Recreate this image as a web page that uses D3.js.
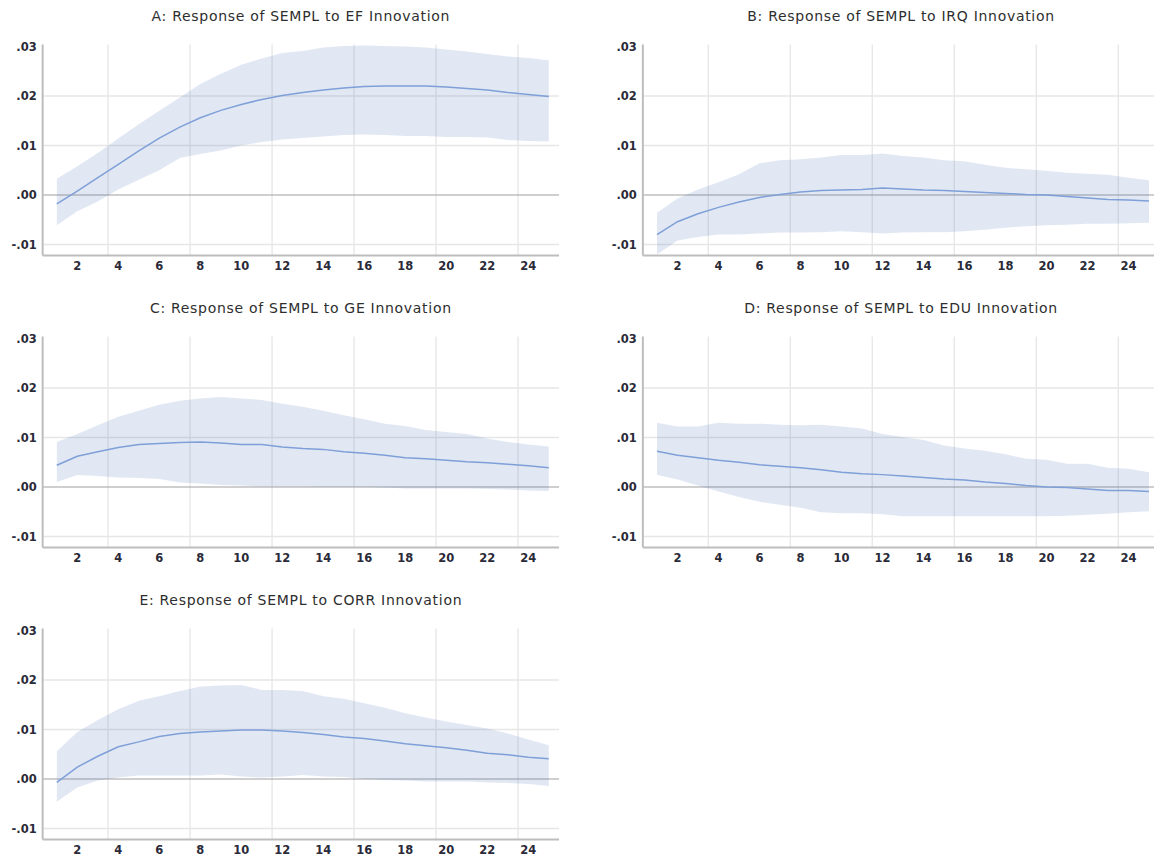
<!DOCTYPE html>
<html>
<head>
<meta charset="utf-8">
<script src="https://cdn.jsdelivr.net/npm/d3@7"></script>
<style>
  body { margin: 0; background: #fff; }
  .title { font-family: "DejaVu Sans", sans-serif; font-size: 14px; letter-spacing: 0.7px; fill: #2e2e2e; }
  .tick-label { font-family: "DejaVu Sans", sans-serif; font-size: 11.5px; font-weight: bold; fill: #2a2a38; }
</style>
</head>
<body>
<div id="chart"></div>
<script>
// periods 1..25
let periods = d3.range(1, 26);
let xTickLabels = [2, 4, 6, 8, 10, 12, 14, 16, 18, 20, 22, 24];
let xGridAt = [4, 8, 12, 16, 20, 24];
let yTicks = [0.03, 0.02, 0.01, 0.00, -0.01];
let yTickLabels = [".03", ".02", ".01", ".00", "-.01"];

let titles = [
  "A: Response of SEMPL to EF Innovation",
  "B: Response of SEMPL to IRQ Innovation",
  "C: Response of SEMPL to GE Innovation",
  "D: Response of SEMPL to EDU Innovation",
  "E: Response of SEMPL to CORR Innovation"
];

// A: EF
let efMid = [-0.0018, 0.0008, 0.0035, 0.0062, 0.0089, 0.0115, 0.0137, 0.0156, 0.0171, 0.0183, 0.0193, 0.0201, 0.0207, 0.0212, 0.0216, 0.0219, 0.0220, 0.0220, 0.0220, 0.0218, 0.0215, 0.0212, 0.0207, 0.0203, 0.0199];
let efUp = [0.0033, 0.0058, 0.0085, 0.0114, 0.0143, 0.0170, 0.0197, 0.0224, 0.0245, 0.0263, 0.0276, 0.0287, 0.0291, 0.0298, 0.0301, 0.0302, 0.0301, 0.0300, 0.0298, 0.0294, 0.0290, 0.0285, 0.0280, 0.0277, 0.0272];
let efLo = [-0.0061, -0.0033, -0.0013, 0.0011, 0.0031, 0.0050, 0.0075, 0.0083, 0.0090, 0.0100, 0.0107, 0.0112, 0.0115, 0.0118, 0.0121, 0.0122, 0.0121, 0.0119, 0.0119, 0.0117, 0.0117, 0.0116, 0.0111, 0.0109, 0.0108];

// B: IRQ
let irqMid = [-0.0080, -0.0054, -0.0038, -0.0025, -0.0014, -0.0005, 0.0001, 0.0006, 0.0009, 0.0010, 0.0011, 0.0014, 0.0012, 0.0010, 0.0009, 0.0007, 0.0005, 0.0003, 0.0001, 0.0000, -0.0003, -0.0006, -0.0009, -0.0010, -0.0012];
let irqUp = [-0.0036, -0.0007, 0.0011, 0.0026, 0.0042, 0.0064, 0.0070, 0.0072, 0.0076, 0.0081, 0.0081, 0.0084, 0.0079, 0.0076, 0.0070, 0.0068, 0.0061, 0.0055, 0.0052, 0.0049, 0.0045, 0.0043, 0.0041, 0.0035, 0.0030];
let irqLo = [-0.0120, -0.0092, -0.0085, -0.0080, -0.0080, -0.0078, -0.0076, -0.0076, -0.0075, -0.0073, -0.0075, -0.0078, -0.0076, -0.0075, -0.0075, -0.0073, -0.0070, -0.0066, -0.0063, -0.0061, -0.0060, -0.0058, -0.0058, -0.0057, -0.0056];

// C: GE
let geMid = [0.0044, 0.0062, 0.0071, 0.0080, 0.0086, 0.0088, 0.0090, 0.0091, 0.0089, 0.0086, 0.0086, 0.0081, 0.0078, 0.0076, 0.0071, 0.0068, 0.0064, 0.0059, 0.0057, 0.0054, 0.0051, 0.0049, 0.0046, 0.0043, 0.0039];
let geUp = [0.0091, 0.0107, 0.0125, 0.0142, 0.0154, 0.0166, 0.0174, 0.0179, 0.0182, 0.0179, 0.0176, 0.0168, 0.0162, 0.0154, 0.0145, 0.0137, 0.0128, 0.0123, 0.0115, 0.0111, 0.0107, 0.0098, 0.0091, 0.0086, 0.0082];
let geLo = [0.0010, 0.0024, 0.0022, 0.0019, 0.0018, 0.0016, 0.0009, 0.0007, 0.0004, 0.0003, 0.0001, 0.0001, 0.0001, 0.0000, 0.0000, 0.0000, -0.0001, -0.0003, -0.0003, -0.0003, -0.0003, -0.0004, -0.0005, -0.0007, -0.0008];

// D: EDU
let eduMid = [0.0072, 0.0064, 0.0059, 0.0054, 0.0050, 0.0045, 0.0042, 0.0039, 0.0035, 0.0030, 0.0027, 0.0025, 0.0022, 0.0019, 0.0016, 0.0014, 0.0010, 0.0007, 0.0003, 0.0000, -0.0001, -0.0004, -0.0007, -0.0007, -0.0009];
let eduUp = [0.0130, 0.0122, 0.0122, 0.0130, 0.0128, 0.0128, 0.0126, 0.0125, 0.0126, 0.0122, 0.0118, 0.0107, 0.0101, 0.0095, 0.0084, 0.0078, 0.0073, 0.0066, 0.0057, 0.0055, 0.0047, 0.0047, 0.0039, 0.0037, 0.0030];
let eduLo = [0.0025, 0.0015, 0.0003, -0.0009, -0.0020, -0.0030, -0.0036, -0.0042, -0.0051, -0.0053, -0.0053, -0.0055, -0.0059, -0.0059, -0.0059, -0.0059, -0.0059, -0.0059, -0.0059, -0.0059, -0.0058, -0.0056, -0.0054, -0.0051, -0.0049];

// E: CORR
let corrMid = [-0.0007, 0.0024, 0.0046, 0.0065, 0.0075, 0.0086, 0.0092, 0.0095, 0.0097, 0.0099, 0.0099, 0.0097, 0.0094, 0.0090, 0.0085, 0.0082, 0.0077, 0.0071, 0.0067, 0.0063, 0.0058, 0.0052, 0.0049, 0.0044, 0.0041];
let corrUp = [0.0056, 0.0095, 0.0119, 0.0141, 0.0158, 0.0167, 0.0178, 0.0187, 0.0189, 0.0190, 0.0180, 0.0180, 0.0178, 0.0167, 0.0162, 0.0153, 0.0144, 0.0133, 0.0124, 0.0116, 0.0109, 0.0102, 0.0092, 0.0080, 0.0068];
let corrLo = [-0.0046, -0.0017, -0.0003, 0.0003, 0.0007, 0.0007, 0.0007, 0.0007, 0.0009, 0.0005, 0.0003, 0.0005, 0.0008, 0.0005, 0.0004, 0.0000, -0.0002, -0.0003, -0.0005, -0.0005, -0.0005, -0.0007, -0.0008, -0.0010, -0.0014];

let svg = d3.select("#chart")
  .append("svg")
  .attr("width", 1154)
  .attr("height", 856);

// x0 = pixel of period 1, y0 = pixel of .03
makePanel(titles[0], efMid, efUp, efLo, 56.8, 46.5);
makePanel(titles[1], irqMid, irqUp, irqLo, 657, 46.5);
makePanel(titles[2], geMid, geUp, geLo, 56.8, 338.5);
makePanel(titles[3], eduMid, eduUp, eduLo, 657, 338.5);
makePanel(titles[4], corrMid, corrUp, corrLo, 56.8, 630.5);

function makePanel(title, mid, up, lo, x0, y0) {
  let step = 20.5;
  let xScale = d3.scaleLinear()
    .domain([1, 25])
    .range([x0, x0 + 24 * step]);

  let yScale = d3.scaleLinear()
    .domain([-0.01, 0.03])
    .range([y0 + 198, y0]);

  let left = xScale(0.31);
  let right = xScale(25.5);
  let bottom = y0 + 209;
  let top = y0 - 2;

  let g = svg.append("g");

  // title
  g.append("text")
    .attr("class", "title")
    .attr("x", (left + right) / 2)
    .attr("y", y0 - 26)
    .attr("text-anchor", "middle")
    .text(title);

  // horizontal grid (not at zero)
  g.selectAll(".hgrid")
    .data(yTicks.filter(function(d) { return d !== 0 && d !== 0.03; }))
    .enter()
    .append("line")
    .attr("x1", left)
    .attr("x2", right)
    .attr("y1", function(d) { return yScale(d); })
    .attr("y2", function(d) { return yScale(d); })
    .attr("stroke", "#e6e6e6")
    .attr("stroke-width", 1.3);

  // vertical grid sits half a period before the label
  g.selectAll(".vgrid")
    .data(xGridAt)
    .enter()
    .append("line")
    .attr("x1", function(d) { return xScale(d - 0.5); })
    .attr("x2", function(d) { return xScale(d - 0.5); })
    .attr("y1", top)
    .attr("y2", bottom)
    .attr("stroke", "#e6e6e6")
    .attr("stroke-width", 1.3);

  // zero line
  g.append("line")
    .attr("x1", left)
    .attr("x2", right)
    .attr("y1", yScale(0))
    .attr("y2", yScale(0))
    .attr("stroke", "#a0a0a0")
    .attr("stroke-width", 1.2);

  let rows = periods.map(function(p, i) {
    return { p: p, mid: mid[i], up: up[i], lo: lo[i] };
  });

  // confidence band
  let area = d3.area()
    .x(function(d) { return xScale(d.p); })
    .y0(function(d) { return yScale(d.lo); })
    .y1(function(d) { return yScale(d.up); });

  g.append("path")
    .datum(rows)
    .attr("d", area)
    .attr("fill", "rgb(77,116,188)")
    .attr("fill-opacity", 0.17);

  // response line
  let line = d3.line()
    .x(function(d) { return xScale(d.p); })
    .y(function(d) { return yScale(d.mid); });

  g.append("path")
    .datum(rows)
    .attr("d", line)
    .attr("fill", "none")
    .attr("stroke", "#7f9fd8")
    .attr("stroke-width", 1.5);

  // axes lines
  g.append("line")
    .attr("x1", left).attr("x2", left)
    .attr("y1", top).attr("y2", bottom)
    .attr("stroke", "#bdbdbd")
    .attr("stroke-width", 2);

  g.append("line")
    .attr("x1", left).attr("x2", right)
    .attr("y1", bottom).attr("y2", bottom)
    .attr("stroke", "#bdbdbd")
    .attr("stroke-width", 2);

  // y labels
  g.selectAll(".ylab")
    .data(yTicks)
    .enter()
    .append("text")
    .attr("class", "tick-label")
    .attr("x", left - 6)
    .attr("y", function(d) { return yScale(d); })
    .attr("dy", "0.35em")
    .attr("text-anchor", "end")
    .text(function(d, i) { return yTickLabels[i]; });

  // x labels
  g.selectAll(".xlab")
    .data(xTickLabels)
    .enter()
    .append("text")
    .attr("class", "tick-label")
    .attr("x", function(d) { return xScale(d); })
    .attr("y", bottom + 10)
    .attr("dy", "0.35em")
    .attr("text-anchor", "middle")
    .text(function(d) { return d; });
}
</script>
</body>
</html>
